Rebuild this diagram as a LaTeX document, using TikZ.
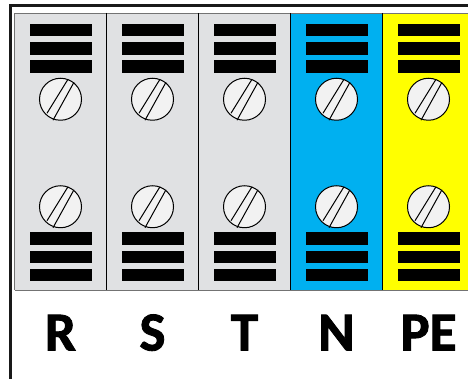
\documentclass[tikz,border=0pt]{standalone}
\usepackage{fontspec}
\setmainfont[BoldFeatures={FakeBold=1.6}]{Carlito}
\usetikzlibrary{positioning}
\definecolor{cellgray}{HTML}{E0E1E3}
\definecolor{cellblue}{HTML}{00B0F0}
\definecolor{cellyellow}{HTML}{FFFF00}
\definecolor{screwgray}{HTML}{F2F2F2}
\tikzset{
  cell/.style={minimum width=92pt,minimum height=277pt,inner sep=0pt,outer sep=0pt,anchor=north west},
  bar/.style={fill=black,minimum width=62pt,minimum height=12.5pt,inner sep=0pt,outer sep=0pt},
  screw/.style={circle,draw=black,line width=1pt,fill=screwgray,minimum size=42pt,inner sep=0pt,outer sep=0pt},
  slot/.style={line width=1pt,black},
  tag/.style={font=\fontsize{55}{55}\selectfont\bfseries,inner sep=0pt,anchor=base},
}
\newcommand{\slotlines}[1]{
  \draw[slot] ([shift={(-13.5pt,-14pt)}]#1.center) -- ([shift={(7.5pt,20pt)}]#1.center);
  \draw[slot] ([shift={(-7.5pt,-21pt)}]#1.center) -- ([shift={(13.5pt,17pt)}]#1.center);
}
\begin{document}
\begin{tikzpicture}[x=1pt,y=1pt]
\useasboundingbox (0,0) rectangle (468,379);
\begin{scope}
\clip (0,0) rectangle (468,379);
% outer frame
\coordinate (frameBL) at (10,-5);
\coordinate (frameTR) at (475,373);
\draw[line width=3pt,black!90] (frameBL) rectangle (frameTR);
% terminals
\foreach \name/\col/\txt [count=\i from 0] in {R/cellgray/R,S/cellgray/S,T/cellgray/T,N/cellblue/N,PE/cellyellow/PE}{
  \node[cell,fill=\col] (cell\name) at (14.5+92*\i,366) {};
  \node[bar] (barA\name) at (60.5+92*\i,349) {};
  \node[bar,below=6pt of barA\name] (barB\name) {};
  \node[bar,below=5.5pt of barB\name] (barC\name) {};
  \node[screw,below=5.5pt of barC\name] (screwA\name) {};
  \slotlines{screwA\name}
  \node[bar] (barF\name) at (60.5+92*\i,104) {};
  \node[bar,above=5.5pt of barF\name] (barE\name) {};
  \node[bar,above=6pt of barE\name] (barD\name) {};
  \node[screw,above=4.5pt of barD\name] (screwB\name) {};
  \slotlines{screwB\name}
  \node[tag] (tag\name) at (60.5+92*\i,28.5) {\txt};
}
% cell edges
\draw[line width=0.9pt,black!55] (14.5,89) -- (14.5,366) -- (475,366);
\draw[line width=0.9pt,black!55] (14.5,89) -- (475,89);
\foreach \name in {R,S,T,N}{
  \draw[line width=0.8pt,black] (cell\name.north east) -- (cell\name.south east);
}
\end{scope}
\end{tikzpicture}
\end{document}
